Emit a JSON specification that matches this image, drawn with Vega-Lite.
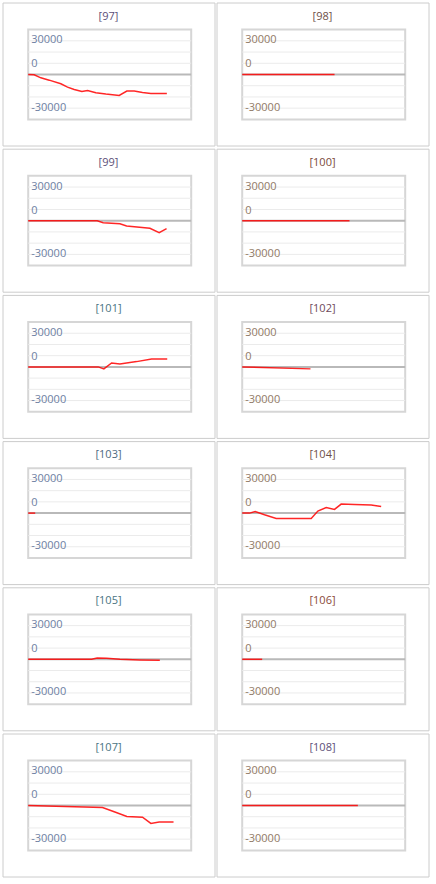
{
  "$schema": "https://vega.github.io/schema/vega-lite/v6.json",
  "padding": {"left": 1.5, "top": 1.5, "right": 0, "bottom": 0},
  "background": "white",
  "datasets": {
    "grid": [{"v": 30000}, {"v": 20000}, {"v": 10000}, {"v": -10000}, {"v": -20000}, {"v": -30000}],
    "ticks": [{"v": 30000, "label": "30000"}, {"v": 0, "label": "0"}, {"v": -30000, "label": "-30000"}],
    "lines": [
      {"p": "97", "t": 0, "v": 0}, {"p": "97", "t": 1.1, "v": -300}, {"p": "97", "t": 2.33, "v": -2960}, {"p": "97", "t": 3.87, "v": -5040}, {"p": "97", "t": 6.01, "v": -8300}, {"p": "97", "t": 7.24, "v": -11260}, {"p": "97", "t": 8.47, "v": -13330}, {"p": "97", "t": 9.88, "v": -15110}, {"p": "97", "t": 10.92, "v": -14220}, {"p": "97", "t": 12.45, "v": -16300}, {"p": "97", "t": 14.29, "v": -17480}, {"p": "97", "t": 16.75, "v": -18670}, {"p": "97", "t": 18.16, "v": -14810}, {"p": "97", "t": 19.51, "v": -14810}, {"p": "97", "t": 21.04, "v": -16000}, {"p": "97", "t": 22.58, "v": -16890}, {"p": "97", "t": 25.52, "v": -16890},
      {"p": "98", "t": 0, "v": 0}, {"p": "98", "t": 17.0, "v": 0},
      {"p": "99", "t": 0, "v": 0}, {"p": "99", "t": 12.7, "v": 0}, {"p": "99", "t": 13.8, "v": -1760}, {"p": "99", "t": 16.88, "v": -2650}, {"p": "99", "t": 18.11, "v": -4710}, {"p": "99", "t": 22.4, "v": -6760}, {"p": "99", "t": 24.11, "v": -10590}, {"p": "99", "t": 25.47, "v": -7060},
      {"p": "100", "t": 0, "v": 0}, {"p": "100", "t": 19.75, "v": 0},
      {"p": "101", "t": 0, "v": 0}, {"p": "101", "t": 12.89, "v": 0}, {"p": "101", "t": 13.93, "v": -1760}, {"p": "101", "t": 15.35, "v": 3530}, {"p": "101", "t": 16.88, "v": 2650}, {"p": "101", "t": 19.95, "v": 4710}, {"p": "101", "t": 22.71, "v": 7060}, {"p": "101", "t": 25.59, "v": 7060},
      {"p": "102", "t": 0, "v": 0}, {"p": "102", "t": 12.57, "v": -1760},
      {"p": "103", "t": 0, "v": 0}, {"p": "103", "t": 1.29, "v": 0},
      {"p": "104", "t": 0, "v": 0}, {"p": "104", "t": 1.35, "v": 0}, {"p": "104", "t": 2.39, "v": 1480}, {"p": "104", "t": 4.11, "v": -1480}, {"p": "104", "t": 6.26, "v": -4740}, {"p": "104", "t": 12.7, "v": -4740}, {"p": "104", "t": 13.93, "v": 1780}, {"p": "104", "t": 15.46, "v": 5040}, {"p": "104", "t": 16.99, "v": 3260}, {"p": "104", "t": 18.22, "v": 8000}, {"p": "104", "t": 20.67, "v": 7700}, {"p": "104", "t": 23.74, "v": 7110}, {"p": "104", "t": 25.58, "v": 5930},
      {"p": "105", "t": 0, "v": 0}, {"p": "105", "t": 11.66, "v": 0}, {"p": "105", "t": 12.7, "v": 1180}, {"p": "105", "t": 14.42, "v": 880}, {"p": "105", "t": 16.87, "v": 0}, {"p": "105", "t": 20.55, "v": -590}, {"p": "105", "t": 24.23, "v": -880},
      {"p": "106", "t": 0, "v": 0}, {"p": "106", "t": 3.68, "v": 0},
      {"p": "107", "t": 0, "v": 0}, {"p": "107", "t": 13.68, "v": -1780}, {"p": "107", "t": 15.83, "v": -5630}, {"p": "107", "t": 18.16, "v": -9780}, {"p": "107", "t": 21.04, "v": -10370}, {"p": "107", "t": 22.58, "v": -16000}, {"p": "107", "t": 24.11, "v": -14810}, {"p": "107", "t": 26.75, "v": -14810},
      {"p": "108", "t": 0, "v": 0}, {"p": "108", "t": 21.29, "v": 0}
    ]
  },
  "columns": 2,
  "spacing": {"row": 1.2, "column": 0},
  "config": {
    "view": {"stroke": "#cccccc", "strokeWidth": 1},
    "axis": {"disable": true},
    "title": {"font": "Open Sans", "fontSize": 11, "fontWeight": "normal", "offset": -19, "baseline": "middle", "anchor": "middle"},
    "text": {"font": "Open Sans", "fontSize": 11}
  },
  "concat": [
    {"width": 212, "height": 143, "title": {"text": "[97]", "color": "#5d4f78"}, "layer": [
      {"data": {"values": [{}]}, "mark": {"type": "rect", "fill": "white", "stroke": "#d6d6d6", "strokeWidth": 2}, "encoding": {"x": {"datum": 0, "type": "quantitative", "scale": {"domain": [-4.73, 34.29], "nice": false, "zero": false}, "axis": null}, "x2": {"datum": 30}, "y": {"datum": -40000, "type": "quantitative", "scale": {"domain": [-63280, 64171], "nice": false, "zero": false}, "axis": null}, "y2": {"datum": 40000}}},
      {"data": {"name": "grid"}, "mark": {"type": "rule", "color": "#ebebeb", "strokeWidth": 1}, "encoding": {"x": {"datum": 0, "type": "quantitative", "scale": {"domain": [-4.73, 34.29], "nice": false, "zero": false}, "axis": null}, "x2": {"datum": 30}, "y": {"field": "v", "type": "quantitative", "scale": {"domain": [-63280, 64171], "nice": false, "zero": false}, "axis": null}}},
      {"data": {"values": [{}]}, "mark": {"type": "rule", "color": "#b9b9b9", "strokeWidth": 2}, "encoding": {"x": {"datum": 0, "type": "quantitative", "scale": {"domain": [-4.73, 34.29], "nice": false, "zero": false}, "axis": null}, "x2": {"datum": 30}, "y": {"datum": 0, "type": "quantitative", "scale": {"domain": [-63280, 64171], "nice": false, "zero": false}, "axis": null}}},
      {"data": {"name": "ticks"}, "transform": [{"filter": "datum.v != 0"}], "mark": {"type": "text", "align": "left", "dx": 3, "dy": -0.5, "color": "#6e7fa3"}, "encoding": {"x": {"datum": 0, "type": "quantitative", "scale": {"domain": [-4.73, 34.29], "nice": false, "zero": false}, "axis": null}, "y": {"field": "v", "type": "quantitative", "scale": {"domain": [-63280, 64171], "nice": false, "zero": false}, "axis": null}, "text": {"field": "label"}}},
      {"data": {"name": "ticks"}, "transform": [{"filter": "datum.v == 0"}], "mark": {"type": "text", "align": "left", "dx": 3, "dy": -10, "color": "#6e7fa3"}, "encoding": {"x": {"datum": 0, "type": "quantitative", "scale": {"domain": [-4.73, 34.29], "nice": false, "zero": false}, "axis": null}, "y": {"field": "v", "type": "quantitative", "scale": {"domain": [-63280, 64171], "nice": false, "zero": false}, "axis": null}, "text": {"field": "label"}}},
      {"data": {"name": "lines"}, "transform": [{"filter": "datum.p == '97'"}], "mark": {"type": "line", "color": "#ff0000", "strokeWidth": 1.5, "opacity": 0.85}, "encoding": {"x": {"field": "t", "type": "quantitative", "scale": {"domain": [-4.73, 34.29], "nice": false, "zero": false}, "axis": null}, "y": {"field": "v", "type": "quantitative", "scale": {"domain": [-63280, 64171], "nice": false, "zero": false}, "axis": null}}}
    ]},
    {"width": 212, "height": 143, "title": {"text": "[98]", "color": "#6e5048"}, "layer": [
      {"data": {"values": [{}]}, "mark": {"type": "rect", "fill": "white", "stroke": "#d6d6d6", "strokeWidth": 2}, "encoding": {"x": {"datum": 0, "type": "quantitative", "scale": {"domain": [-4.73, 34.29], "nice": false, "zero": false}, "axis": null}, "x2": {"datum": 30}, "y": {"datum": -40000, "type": "quantitative", "scale": {"domain": [-63280, 64171], "nice": false, "zero": false}, "axis": null}, "y2": {"datum": 40000}}},
      {"data": {"name": "grid"}, "mark": {"type": "rule", "color": "#ebebeb", "strokeWidth": 1}, "encoding": {"x": {"datum": 0, "type": "quantitative", "scale": {"domain": [-4.73, 34.29], "nice": false, "zero": false}, "axis": null}, "x2": {"datum": 30}, "y": {"field": "v", "type": "quantitative", "scale": {"domain": [-63280, 64171], "nice": false, "zero": false}, "axis": null}}},
      {"data": {"values": [{}]}, "mark": {"type": "rule", "color": "#b9b9b9", "strokeWidth": 2}, "encoding": {"x": {"datum": 0, "type": "quantitative", "scale": {"domain": [-4.73, 34.29], "nice": false, "zero": false}, "axis": null}, "x2": {"datum": 30}, "y": {"datum": 0, "type": "quantitative", "scale": {"domain": [-63280, 64171], "nice": false, "zero": false}, "axis": null}}},
      {"data": {"name": "ticks"}, "transform": [{"filter": "datum.v != 0"}], "mark": {"type": "text", "align": "left", "dx": 3, "dy": -0.5, "color": "#917a66"}, "encoding": {"x": {"datum": 0, "type": "quantitative", "scale": {"domain": [-4.73, 34.29], "nice": false, "zero": false}, "axis": null}, "y": {"field": "v", "type": "quantitative", "scale": {"domain": [-63280, 64171], "nice": false, "zero": false}, "axis": null}, "text": {"field": "label"}}},
      {"data": {"name": "ticks"}, "transform": [{"filter": "datum.v == 0"}], "mark": {"type": "text", "align": "left", "dx": 3, "dy": -10, "color": "#917a66"}, "encoding": {"x": {"datum": 0, "type": "quantitative", "scale": {"domain": [-4.73, 34.29], "nice": false, "zero": false}, "axis": null}, "y": {"field": "v", "type": "quantitative", "scale": {"domain": [-63280, 64171], "nice": false, "zero": false}, "axis": null}, "text": {"field": "label"}}},
      {"data": {"name": "lines"}, "transform": [{"filter": "datum.p == '98'"}], "mark": {"type": "line", "color": "#ff0000", "strokeWidth": 1.5, "opacity": 0.85}, "encoding": {"x": {"field": "t", "type": "quantitative", "scale": {"domain": [-4.73, 34.29], "nice": false, "zero": false}, "axis": null}, "y": {"field": "v", "type": "quantitative", "scale": {"domain": [-63280, 64171], "nice": false, "zero": false}, "axis": null}}}
    ]},
    {"width": 212, "height": 143, "title": {"text": "[99]", "color": "#5d4f78"}, "layer": [
      {"data": {"values": [{}]}, "mark": {"type": "rect", "fill": "white", "stroke": "#d6d6d6", "strokeWidth": 2}, "encoding": {"x": {"datum": 0, "type": "quantitative", "scale": {"domain": [-4.73, 34.29], "nice": false, "zero": false}, "axis": null}, "x2": {"datum": 30}, "y": {"datum": -40000, "type": "quantitative", "scale": {"domain": [-63280, 64171], "nice": false, "zero": false}, "axis": null}, "y2": {"datum": 40000}}},
      {"data": {"name": "grid"}, "mark": {"type": "rule", "color": "#ebebeb", "strokeWidth": 1}, "encoding": {"x": {"datum": 0, "type": "quantitative", "scale": {"domain": [-4.73, 34.29], "nice": false, "zero": false}, "axis": null}, "x2": {"datum": 30}, "y": {"field": "v", "type": "quantitative", "scale": {"domain": [-63280, 64171], "nice": false, "zero": false}, "axis": null}}},
      {"data": {"values": [{}]}, "mark": {"type": "rule", "color": "#b9b9b9", "strokeWidth": 2}, "encoding": {"x": {"datum": 0, "type": "quantitative", "scale": {"domain": [-4.73, 34.29], "nice": false, "zero": false}, "axis": null}, "x2": {"datum": 30}, "y": {"datum": 0, "type": "quantitative", "scale": {"domain": [-63280, 64171], "nice": false, "zero": false}, "axis": null}}},
      {"data": {"name": "ticks"}, "transform": [{"filter": "datum.v != 0"}], "mark": {"type": "text", "align": "left", "dx": 3, "dy": -0.5, "color": "#6e7fa3"}, "encoding": {"x": {"datum": 0, "type": "quantitative", "scale": {"domain": [-4.73, 34.29], "nice": false, "zero": false}, "axis": null}, "y": {"field": "v", "type": "quantitative", "scale": {"domain": [-63280, 64171], "nice": false, "zero": false}, "axis": null}, "text": {"field": "label"}}},
      {"data": {"name": "ticks"}, "transform": [{"filter": "datum.v == 0"}], "mark": {"type": "text", "align": "left", "dx": 3, "dy": -10, "color": "#6e7fa3"}, "encoding": {"x": {"datum": 0, "type": "quantitative", "scale": {"domain": [-4.73, 34.29], "nice": false, "zero": false}, "axis": null}, "y": {"field": "v", "type": "quantitative", "scale": {"domain": [-63280, 64171], "nice": false, "zero": false}, "axis": null}, "text": {"field": "label"}}},
      {"data": {"name": "lines"}, "transform": [{"filter": "datum.p == '99'"}], "mark": {"type": "line", "color": "#ff0000", "strokeWidth": 1.5, "opacity": 0.85}, "encoding": {"x": {"field": "t", "type": "quantitative", "scale": {"domain": [-4.73, 34.29], "nice": false, "zero": false}, "axis": null}, "y": {"field": "v", "type": "quantitative", "scale": {"domain": [-63280, 64171], "nice": false, "zero": false}, "axis": null}}}
    ]},
    {"width": 212, "height": 143, "title": {"text": "[100]", "color": "#7a4a3a"}, "layer": [
      {"data": {"values": [{}]}, "mark": {"type": "rect", "fill": "white", "stroke": "#d6d6d6", "strokeWidth": 2}, "encoding": {"x": {"datum": 0, "type": "quantitative", "scale": {"domain": [-4.73, 34.29], "nice": false, "zero": false}, "axis": null}, "x2": {"datum": 30}, "y": {"datum": -40000, "type": "quantitative", "scale": {"domain": [-63280, 64171], "nice": false, "zero": false}, "axis": null}, "y2": {"datum": 40000}}},
      {"data": {"name": "grid"}, "mark": {"type": "rule", "color": "#ebebeb", "strokeWidth": 1}, "encoding": {"x": {"datum": 0, "type": "quantitative", "scale": {"domain": [-4.73, 34.29], "nice": false, "zero": false}, "axis": null}, "x2": {"datum": 30}, "y": {"field": "v", "type": "quantitative", "scale": {"domain": [-63280, 64171], "nice": false, "zero": false}, "axis": null}}},
      {"data": {"values": [{}]}, "mark": {"type": "rule", "color": "#b9b9b9", "strokeWidth": 2}, "encoding": {"x": {"datum": 0, "type": "quantitative", "scale": {"domain": [-4.73, 34.29], "nice": false, "zero": false}, "axis": null}, "x2": {"datum": 30}, "y": {"datum": 0, "type": "quantitative", "scale": {"domain": [-63280, 64171], "nice": false, "zero": false}, "axis": null}}},
      {"data": {"name": "ticks"}, "transform": [{"filter": "datum.v != 0"}], "mark": {"type": "text", "align": "left", "dx": 3, "dy": -0.5, "color": "#917a66"}, "encoding": {"x": {"datum": 0, "type": "quantitative", "scale": {"domain": [-4.73, 34.29], "nice": false, "zero": false}, "axis": null}, "y": {"field": "v", "type": "quantitative", "scale": {"domain": [-63280, 64171], "nice": false, "zero": false}, "axis": null}, "text": {"field": "label"}}},
      {"data": {"name": "ticks"}, "transform": [{"filter": "datum.v == 0"}], "mark": {"type": "text", "align": "left", "dx": 3, "dy": -10, "color": "#917a66"}, "encoding": {"x": {"datum": 0, "type": "quantitative", "scale": {"domain": [-4.73, 34.29], "nice": false, "zero": false}, "axis": null}, "y": {"field": "v", "type": "quantitative", "scale": {"domain": [-63280, 64171], "nice": false, "zero": false}, "axis": null}, "text": {"field": "label"}}},
      {"data": {"name": "lines"}, "transform": [{"filter": "datum.p == '100'"}], "mark": {"type": "line", "color": "#ff0000", "strokeWidth": 1.5, "opacity": 0.85}, "encoding": {"x": {"field": "t", "type": "quantitative", "scale": {"domain": [-4.73, 34.29], "nice": false, "zero": false}, "axis": null}, "y": {"field": "v", "type": "quantitative", "scale": {"domain": [-63280, 64171], "nice": false, "zero": false}, "axis": null}}}
    ]},
    {"width": 212, "height": 143, "title": {"text": "[101]", "color": "#4a7482"}, "layer": [
      {"data": {"values": [{}]}, "mark": {"type": "rect", "fill": "white", "stroke": "#d6d6d6", "strokeWidth": 2}, "encoding": {"x": {"datum": 0, "type": "quantitative", "scale": {"domain": [-4.73, 34.29], "nice": false, "zero": false}, "axis": null}, "x2": {"datum": 30}, "y": {"datum": -40000, "type": "quantitative", "scale": {"domain": [-63280, 64171], "nice": false, "zero": false}, "axis": null}, "y2": {"datum": 40000}}},
      {"data": {"name": "grid"}, "mark": {"type": "rule", "color": "#ebebeb", "strokeWidth": 1}, "encoding": {"x": {"datum": 0, "type": "quantitative", "scale": {"domain": [-4.73, 34.29], "nice": false, "zero": false}, "axis": null}, "x2": {"datum": 30}, "y": {"field": "v", "type": "quantitative", "scale": {"domain": [-63280, 64171], "nice": false, "zero": false}, "axis": null}}},
      {"data": {"values": [{}]}, "mark": {"type": "rule", "color": "#b9b9b9", "strokeWidth": 2}, "encoding": {"x": {"datum": 0, "type": "quantitative", "scale": {"domain": [-4.73, 34.29], "nice": false, "zero": false}, "axis": null}, "x2": {"datum": 30}, "y": {"datum": 0, "type": "quantitative", "scale": {"domain": [-63280, 64171], "nice": false, "zero": false}, "axis": null}}},
      {"data": {"name": "ticks"}, "transform": [{"filter": "datum.v != 0"}], "mark": {"type": "text", "align": "left", "dx": 3, "dy": -0.5, "color": "#6e7fa3"}, "encoding": {"x": {"datum": 0, "type": "quantitative", "scale": {"domain": [-4.73, 34.29], "nice": false, "zero": false}, "axis": null}, "y": {"field": "v", "type": "quantitative", "scale": {"domain": [-63280, 64171], "nice": false, "zero": false}, "axis": null}, "text": {"field": "label"}}},
      {"data": {"name": "ticks"}, "transform": [{"filter": "datum.v == 0"}], "mark": {"type": "text", "align": "left", "dx": 3, "dy": -10, "color": "#6e7fa3"}, "encoding": {"x": {"datum": 0, "type": "quantitative", "scale": {"domain": [-4.73, 34.29], "nice": false, "zero": false}, "axis": null}, "y": {"field": "v", "type": "quantitative", "scale": {"domain": [-63280, 64171], "nice": false, "zero": false}, "axis": null}, "text": {"field": "label"}}},
      {"data": {"name": "lines"}, "transform": [{"filter": "datum.p == '101'"}], "mark": {"type": "line", "color": "#ff0000", "strokeWidth": 1.5, "opacity": 0.85}, "encoding": {"x": {"field": "t", "type": "quantitative", "scale": {"domain": [-4.73, 34.29], "nice": false, "zero": false}, "axis": null}, "y": {"field": "v", "type": "quantitative", "scale": {"domain": [-63280, 64171], "nice": false, "zero": false}, "axis": null}}}
    ]},
    {"width": 212, "height": 143, "title": {"text": "[102]", "color": "#6e4a5a"}, "layer": [
      {"data": {"values": [{}]}, "mark": {"type": "rect", "fill": "white", "stroke": "#d6d6d6", "strokeWidth": 2}, "encoding": {"x": {"datum": 0, "type": "quantitative", "scale": {"domain": [-4.73, 34.29], "nice": false, "zero": false}, "axis": null}, "x2": {"datum": 30}, "y": {"datum": -40000, "type": "quantitative", "scale": {"domain": [-63280, 64171], "nice": false, "zero": false}, "axis": null}, "y2": {"datum": 40000}}},
      {"data": {"name": "grid"}, "mark": {"type": "rule", "color": "#ebebeb", "strokeWidth": 1}, "encoding": {"x": {"datum": 0, "type": "quantitative", "scale": {"domain": [-4.73, 34.29], "nice": false, "zero": false}, "axis": null}, "x2": {"datum": 30}, "y": {"field": "v", "type": "quantitative", "scale": {"domain": [-63280, 64171], "nice": false, "zero": false}, "axis": null}}},
      {"data": {"values": [{}]}, "mark": {"type": "rule", "color": "#b9b9b9", "strokeWidth": 2}, "encoding": {"x": {"datum": 0, "type": "quantitative", "scale": {"domain": [-4.73, 34.29], "nice": false, "zero": false}, "axis": null}, "x2": {"datum": 30}, "y": {"datum": 0, "type": "quantitative", "scale": {"domain": [-63280, 64171], "nice": false, "zero": false}, "axis": null}}},
      {"data": {"name": "ticks"}, "transform": [{"filter": "datum.v != 0"}], "mark": {"type": "text", "align": "left", "dx": 3, "dy": -0.5, "color": "#917a66"}, "encoding": {"x": {"datum": 0, "type": "quantitative", "scale": {"domain": [-4.73, 34.29], "nice": false, "zero": false}, "axis": null}, "y": {"field": "v", "type": "quantitative", "scale": {"domain": [-63280, 64171], "nice": false, "zero": false}, "axis": null}, "text": {"field": "label"}}},
      {"data": {"name": "ticks"}, "transform": [{"filter": "datum.v == 0"}], "mark": {"type": "text", "align": "left", "dx": 3, "dy": -10, "color": "#917a66"}, "encoding": {"x": {"datum": 0, "type": "quantitative", "scale": {"domain": [-4.73, 34.29], "nice": false, "zero": false}, "axis": null}, "y": {"field": "v", "type": "quantitative", "scale": {"domain": [-63280, 64171], "nice": false, "zero": false}, "axis": null}, "text": {"field": "label"}}},
      {"data": {"name": "lines"}, "transform": [{"filter": "datum.p == '102'"}], "mark": {"type": "line", "color": "#ff0000", "strokeWidth": 1.5, "opacity": 0.85}, "encoding": {"x": {"field": "t", "type": "quantitative", "scale": {"domain": [-4.73, 34.29], "nice": false, "zero": false}, "axis": null}, "y": {"field": "v", "type": "quantitative", "scale": {"domain": [-63280, 64171], "nice": false, "zero": false}, "axis": null}}}
    ]},
    {"width": 212, "height": 143, "title": {"text": "[103]", "color": "#4e6a80"}, "layer": [
      {"data": {"values": [{}]}, "mark": {"type": "rect", "fill": "white", "stroke": "#d6d6d6", "strokeWidth": 2}, "encoding": {"x": {"datum": 0, "type": "quantitative", "scale": {"domain": [-4.73, 34.29], "nice": false, "zero": false}, "axis": null}, "x2": {"datum": 30}, "y": {"datum": -40000, "type": "quantitative", "scale": {"domain": [-63280, 64171], "nice": false, "zero": false}, "axis": null}, "y2": {"datum": 40000}}},
      {"data": {"name": "grid"}, "mark": {"type": "rule", "color": "#ebebeb", "strokeWidth": 1}, "encoding": {"x": {"datum": 0, "type": "quantitative", "scale": {"domain": [-4.73, 34.29], "nice": false, "zero": false}, "axis": null}, "x2": {"datum": 30}, "y": {"field": "v", "type": "quantitative", "scale": {"domain": [-63280, 64171], "nice": false, "zero": false}, "axis": null}}},
      {"data": {"values": [{}]}, "mark": {"type": "rule", "color": "#b9b9b9", "strokeWidth": 2}, "encoding": {"x": {"datum": 0, "type": "quantitative", "scale": {"domain": [-4.73, 34.29], "nice": false, "zero": false}, "axis": null}, "x2": {"datum": 30}, "y": {"datum": 0, "type": "quantitative", "scale": {"domain": [-63280, 64171], "nice": false, "zero": false}, "axis": null}}},
      {"data": {"name": "ticks"}, "transform": [{"filter": "datum.v != 0"}], "mark": {"type": "text", "align": "left", "dx": 3, "dy": -0.5, "color": "#6e7fa3"}, "encoding": {"x": {"datum": 0, "type": "quantitative", "scale": {"domain": [-4.73, 34.29], "nice": false, "zero": false}, "axis": null}, "y": {"field": "v", "type": "quantitative", "scale": {"domain": [-63280, 64171], "nice": false, "zero": false}, "axis": null}, "text": {"field": "label"}}},
      {"data": {"name": "ticks"}, "transform": [{"filter": "datum.v == 0"}], "mark": {"type": "text", "align": "left", "dx": 3, "dy": -10, "color": "#6e7fa3"}, "encoding": {"x": {"datum": 0, "type": "quantitative", "scale": {"domain": [-4.73, 34.29], "nice": false, "zero": false}, "axis": null}, "y": {"field": "v", "type": "quantitative", "scale": {"domain": [-63280, 64171], "nice": false, "zero": false}, "axis": null}, "text": {"field": "label"}}},
      {"data": {"name": "lines"}, "transform": [{"filter": "datum.p == '103'"}], "mark": {"type": "line", "color": "#ff0000", "strokeWidth": 1.5, "opacity": 0.85}, "encoding": {"x": {"field": "t", "type": "quantitative", "scale": {"domain": [-4.73, 34.29], "nice": false, "zero": false}, "axis": null}, "y": {"field": "v", "type": "quantitative", "scale": {"domain": [-63280, 64171], "nice": false, "zero": false}, "axis": null}}}
    ]},
    {"width": 212, "height": 143, "title": {"text": "[104]", "color": "#6e5048"}, "layer": [
      {"data": {"values": [{}]}, "mark": {"type": "rect", "fill": "white", "stroke": "#d6d6d6", "strokeWidth": 2}, "encoding": {"x": {"datum": 0, "type": "quantitative", "scale": {"domain": [-4.73, 34.29], "nice": false, "zero": false}, "axis": null}, "x2": {"datum": 30}, "y": {"datum": -40000, "type": "quantitative", "scale": {"domain": [-63280, 64171], "nice": false, "zero": false}, "axis": null}, "y2": {"datum": 40000}}},
      {"data": {"name": "grid"}, "mark": {"type": "rule", "color": "#ebebeb", "strokeWidth": 1}, "encoding": {"x": {"datum": 0, "type": "quantitative", "scale": {"domain": [-4.73, 34.29], "nice": false, "zero": false}, "axis": null}, "x2": {"datum": 30}, "y": {"field": "v", "type": "quantitative", "scale": {"domain": [-63280, 64171], "nice": false, "zero": false}, "axis": null}}},
      {"data": {"values": [{}]}, "mark": {"type": "rule", "color": "#b9b9b9", "strokeWidth": 2}, "encoding": {"x": {"datum": 0, "type": "quantitative", "scale": {"domain": [-4.73, 34.29], "nice": false, "zero": false}, "axis": null}, "x2": {"datum": 30}, "y": {"datum": 0, "type": "quantitative", "scale": {"domain": [-63280, 64171], "nice": false, "zero": false}, "axis": null}}},
      {"data": {"name": "ticks"}, "transform": [{"filter": "datum.v != 0"}], "mark": {"type": "text", "align": "left", "dx": 3, "dy": -0.5, "color": "#917a66"}, "encoding": {"x": {"datum": 0, "type": "quantitative", "scale": {"domain": [-4.73, 34.29], "nice": false, "zero": false}, "axis": null}, "y": {"field": "v", "type": "quantitative", "scale": {"domain": [-63280, 64171], "nice": false, "zero": false}, "axis": null}, "text": {"field": "label"}}},
      {"data": {"name": "ticks"}, "transform": [{"filter": "datum.v == 0"}], "mark": {"type": "text", "align": "left", "dx": 3, "dy": -10, "color": "#917a66"}, "encoding": {"x": {"datum": 0, "type": "quantitative", "scale": {"domain": [-4.73, 34.29], "nice": false, "zero": false}, "axis": null}, "y": {"field": "v", "type": "quantitative", "scale": {"domain": [-63280, 64171], "nice": false, "zero": false}, "axis": null}, "text": {"field": "label"}}},
      {"data": {"name": "lines"}, "transform": [{"filter": "datum.p == '104'"}], "mark": {"type": "line", "color": "#ff0000", "strokeWidth": 1.5, "opacity": 0.85}, "encoding": {"x": {"field": "t", "type": "quantitative", "scale": {"domain": [-4.73, 34.29], "nice": false, "zero": false}, "axis": null}, "y": {"field": "v", "type": "quantitative", "scale": {"domain": [-63280, 64171], "nice": false, "zero": false}, "axis": null}}}
    ]},
    {"width": 212, "height": 143, "title": {"text": "[105]", "color": "#4a7482"}, "layer": [
      {"data": {"values": [{}]}, "mark": {"type": "rect", "fill": "white", "stroke": "#d6d6d6", "strokeWidth": 2}, "encoding": {"x": {"datum": 0, "type": "quantitative", "scale": {"domain": [-4.73, 34.29], "nice": false, "zero": false}, "axis": null}, "x2": {"datum": 30}, "y": {"datum": -40000, "type": "quantitative", "scale": {"domain": [-63280, 64171], "nice": false, "zero": false}, "axis": null}, "y2": {"datum": 40000}}},
      {"data": {"name": "grid"}, "mark": {"type": "rule", "color": "#ebebeb", "strokeWidth": 1}, "encoding": {"x": {"datum": 0, "type": "quantitative", "scale": {"domain": [-4.73, 34.29], "nice": false, "zero": false}, "axis": null}, "x2": {"datum": 30}, "y": {"field": "v", "type": "quantitative", "scale": {"domain": [-63280, 64171], "nice": false, "zero": false}, "axis": null}}},
      {"data": {"values": [{}]}, "mark": {"type": "rule", "color": "#b9b9b9", "strokeWidth": 2}, "encoding": {"x": {"datum": 0, "type": "quantitative", "scale": {"domain": [-4.73, 34.29], "nice": false, "zero": false}, "axis": null}, "x2": {"datum": 30}, "y": {"datum": 0, "type": "quantitative", "scale": {"domain": [-63280, 64171], "nice": false, "zero": false}, "axis": null}}},
      {"data": {"name": "ticks"}, "transform": [{"filter": "datum.v != 0"}], "mark": {"type": "text", "align": "left", "dx": 3, "dy": -0.5, "color": "#6e7fa3"}, "encoding": {"x": {"datum": 0, "type": "quantitative", "scale": {"domain": [-4.73, 34.29], "nice": false, "zero": false}, "axis": null}, "y": {"field": "v", "type": "quantitative", "scale": {"domain": [-63280, 64171], "nice": false, "zero": false}, "axis": null}, "text": {"field": "label"}}},
      {"data": {"name": "ticks"}, "transform": [{"filter": "datum.v == 0"}], "mark": {"type": "text", "align": "left", "dx": 3, "dy": -10, "color": "#6e7fa3"}, "encoding": {"x": {"datum": 0, "type": "quantitative", "scale": {"domain": [-4.73, 34.29], "nice": false, "zero": false}, "axis": null}, "y": {"field": "v", "type": "quantitative", "scale": {"domain": [-63280, 64171], "nice": false, "zero": false}, "axis": null}, "text": {"field": "label"}}},
      {"data": {"name": "lines"}, "transform": [{"filter": "datum.p == '105'"}], "mark": {"type": "line", "color": "#ff0000", "strokeWidth": 1.5, "opacity": 0.85}, "encoding": {"x": {"field": "t", "type": "quantitative", "scale": {"domain": [-4.73, 34.29], "nice": false, "zero": false}, "axis": null}, "y": {"field": "v", "type": "quantitative", "scale": {"domain": [-63280, 64171], "nice": false, "zero": false}, "axis": null}}}
    ]},
    {"width": 212, "height": 143, "title": {"text": "[106]", "color": "#8a4a3a"}, "layer": [
      {"data": {"values": [{}]}, "mark": {"type": "rect", "fill": "white", "stroke": "#d6d6d6", "strokeWidth": 2}, "encoding": {"x": {"datum": 0, "type": "quantitative", "scale": {"domain": [-4.73, 34.29], "nice": false, "zero": false}, "axis": null}, "x2": {"datum": 30}, "y": {"datum": -40000, "type": "quantitative", "scale": {"domain": [-63280, 64171], "nice": false, "zero": false}, "axis": null}, "y2": {"datum": 40000}}},
      {"data": {"name": "grid"}, "mark": {"type": "rule", "color": "#ebebeb", "strokeWidth": 1}, "encoding": {"x": {"datum": 0, "type": "quantitative", "scale": {"domain": [-4.73, 34.29], "nice": false, "zero": false}, "axis": null}, "x2": {"datum": 30}, "y": {"field": "v", "type": "quantitative", "scale": {"domain": [-63280, 64171], "nice": false, "zero": false}, "axis": null}}},
      {"data": {"values": [{}]}, "mark": {"type": "rule", "color": "#b9b9b9", "strokeWidth": 2}, "encoding": {"x": {"datum": 0, "type": "quantitative", "scale": {"domain": [-4.73, 34.29], "nice": false, "zero": false}, "axis": null}, "x2": {"datum": 30}, "y": {"datum": 0, "type": "quantitative", "scale": {"domain": [-63280, 64171], "nice": false, "zero": false}, "axis": null}}},
      {"data": {"name": "ticks"}, "transform": [{"filter": "datum.v != 0"}], "mark": {"type": "text", "align": "left", "dx": 3, "dy": -0.5, "color": "#917a66"}, "encoding": {"x": {"datum": 0, "type": "quantitative", "scale": {"domain": [-4.73, 34.29], "nice": false, "zero": false}, "axis": null}, "y": {"field": "v", "type": "quantitative", "scale": {"domain": [-63280, 64171], "nice": false, "zero": false}, "axis": null}, "text": {"field": "label"}}},
      {"data": {"name": "ticks"}, "transform": [{"filter": "datum.v == 0"}], "mark": {"type": "text", "align": "left", "dx": 3, "dy": -10, "color": "#917a66"}, "encoding": {"x": {"datum": 0, "type": "quantitative", "scale": {"domain": [-4.73, 34.29], "nice": false, "zero": false}, "axis": null}, "y": {"field": "v", "type": "quantitative", "scale": {"domain": [-63280, 64171], "nice": false, "zero": false}, "axis": null}, "text": {"field": "label"}}},
      {"data": {"name": "lines"}, "transform": [{"filter": "datum.p == '106'"}], "mark": {"type": "line", "color": "#ff0000", "strokeWidth": 1.5, "opacity": 0.85}, "encoding": {"x": {"field": "t", "type": "quantitative", "scale": {"domain": [-4.73, 34.29], "nice": false, "zero": false}, "axis": null}, "y": {"field": "v", "type": "quantitative", "scale": {"domain": [-63280, 64171], "nice": false, "zero": false}, "axis": null}}}
    ]},
    {"width": 212, "height": 143, "title": {"text": "[107]", "color": "#4a7482"}, "layer": [
      {"data": {"values": [{}]}, "mark": {"type": "rect", "fill": "white", "stroke": "#d6d6d6", "strokeWidth": 2}, "encoding": {"x": {"datum": 0, "type": "quantitative", "scale": {"domain": [-4.73, 34.29], "nice": false, "zero": false}, "axis": null}, "x2": {"datum": 30}, "y": {"datum": -40000, "type": "quantitative", "scale": {"domain": [-63280, 64171], "nice": false, "zero": false}, "axis": null}, "y2": {"datum": 40000}}},
      {"data": {"name": "grid"}, "mark": {"type": "rule", "color": "#ebebeb", "strokeWidth": 1}, "encoding": {"x": {"datum": 0, "type": "quantitative", "scale": {"domain": [-4.73, 34.29], "nice": false, "zero": false}, "axis": null}, "x2": {"datum": 30}, "y": {"field": "v", "type": "quantitative", "scale": {"domain": [-63280, 64171], "nice": false, "zero": false}, "axis": null}}},
      {"data": {"values": [{}]}, "mark": {"type": "rule", "color": "#b9b9b9", "strokeWidth": 2}, "encoding": {"x": {"datum": 0, "type": "quantitative", "scale": {"domain": [-4.73, 34.29], "nice": false, "zero": false}, "axis": null}, "x2": {"datum": 30}, "y": {"datum": 0, "type": "quantitative", "scale": {"domain": [-63280, 64171], "nice": false, "zero": false}, "axis": null}}},
      {"data": {"name": "ticks"}, "transform": [{"filter": "datum.v != 0"}], "mark": {"type": "text", "align": "left", "dx": 3, "dy": -0.5, "color": "#6e7fa3"}, "encoding": {"x": {"datum": 0, "type": "quantitative", "scale": {"domain": [-4.73, 34.29], "nice": false, "zero": false}, "axis": null}, "y": {"field": "v", "type": "quantitative", "scale": {"domain": [-63280, 64171], "nice": false, "zero": false}, "axis": null}, "text": {"field": "label"}}},
      {"data": {"name": "ticks"}, "transform": [{"filter": "datum.v == 0"}], "mark": {"type": "text", "align": "left", "dx": 3, "dy": -10, "color": "#6e7fa3"}, "encoding": {"x": {"datum": 0, "type": "quantitative", "scale": {"domain": [-4.73, 34.29], "nice": false, "zero": false}, "axis": null}, "y": {"field": "v", "type": "quantitative", "scale": {"domain": [-63280, 64171], "nice": false, "zero": false}, "axis": null}, "text": {"field": "label"}}},
      {"data": {"name": "lines"}, "transform": [{"filter": "datum.p == '107'"}], "mark": {"type": "line", "color": "#ff0000", "strokeWidth": 1.5, "opacity": 0.85}, "encoding": {"x": {"field": "t", "type": "quantitative", "scale": {"domain": [-4.73, 34.29], "nice": false, "zero": false}, "axis": null}, "y": {"field": "v", "type": "quantitative", "scale": {"domain": [-63280, 64171], "nice": false, "zero": false}, "axis": null}}}
    ]},
    {"width": 212, "height": 143, "title": {"text": "[108]", "color": "#5d4f78"}, "layer": [
      {"data": {"values": [{}]}, "mark": {"type": "rect", "fill": "white", "stroke": "#d6d6d6", "strokeWidth": 2}, "encoding": {"x": {"datum": 0, "type": "quantitative", "scale": {"domain": [-4.73, 34.29], "nice": false, "zero": false}, "axis": null}, "x2": {"datum": 30}, "y": {"datum": -40000, "type": "quantitative", "scale": {"domain": [-63280, 64171], "nice": false, "zero": false}, "axis": null}, "y2": {"datum": 40000}}},
      {"data": {"name": "grid"}, "mark": {"type": "rule", "color": "#ebebeb", "strokeWidth": 1}, "encoding": {"x": {"datum": 0, "type": "quantitative", "scale": {"domain": [-4.73, 34.29], "nice": false, "zero": false}, "axis": null}, "x2": {"datum": 30}, "y": {"field": "v", "type": "quantitative", "scale": {"domain": [-63280, 64171], "nice": false, "zero": false}, "axis": null}}},
      {"data": {"values": [{}]}, "mark": {"type": "rule", "color": "#b9b9b9", "strokeWidth": 2}, "encoding": {"x": {"datum": 0, "type": "quantitative", "scale": {"domain": [-4.73, 34.29], "nice": false, "zero": false}, "axis": null}, "x2": {"datum": 30}, "y": {"datum": 0, "type": "quantitative", "scale": {"domain": [-63280, 64171], "nice": false, "zero": false}, "axis": null}}},
      {"data": {"name": "ticks"}, "transform": [{"filter": "datum.v != 0"}], "mark": {"type": "text", "align": "left", "dx": 3, "dy": -0.5, "color": "#917a66"}, "encoding": {"x": {"datum": 0, "type": "quantitative", "scale": {"domain": [-4.73, 34.29], "nice": false, "zero": false}, "axis": null}, "y": {"field": "v", "type": "quantitative", "scale": {"domain": [-63280, 64171], "nice": false, "zero": false}, "axis": null}, "text": {"field": "label"}}},
      {"data": {"name": "ticks"}, "transform": [{"filter": "datum.v == 0"}], "mark": {"type": "text", "align": "left", "dx": 3, "dy": -10, "color": "#917a66"}, "encoding": {"x": {"datum": 0, "type": "quantitative", "scale": {"domain": [-4.73, 34.29], "nice": false, "zero": false}, "axis": null}, "y": {"field": "v", "type": "quantitative", "scale": {"domain": [-63280, 64171], "nice": false, "zero": false}, "axis": null}, "text": {"field": "label"}}},
      {"data": {"name": "lines"}, "transform": [{"filter": "datum.p == '108'"}], "mark": {"type": "line", "color": "#ff0000", "strokeWidth": 1.5, "opacity": 0.85}, "encoding": {"x": {"field": "t", "type": "quantitative", "scale": {"domain": [-4.73, 34.29], "nice": false, "zero": false}, "axis": null}, "y": {"field": "v", "type": "quantitative", "scale": {"domain": [-63280, 64171], "nice": false, "zero": false}, "axis": null}}}
    ]}
  ]
}
